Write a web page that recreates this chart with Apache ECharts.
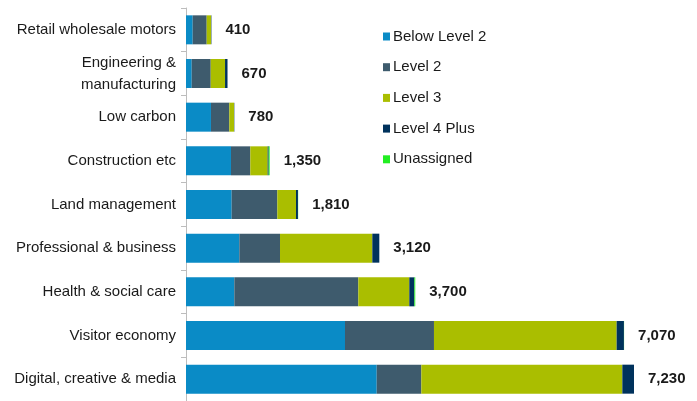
<!DOCTYPE html>
<html><head><meta charset="utf-8">
<script src="https://cdn.jsdelivr.net/npm/echarts@6/dist/echarts.min.js"></script>
<style>html,body{margin:0;padding:0;background:#fff}#c{width:697px;height:401px}</style>
</head><body><div id="c"></div>
<script>
const categories = ["Retail wholesale motors", "Engineering &\nmanufacturing", "Low carbon", "Construction etc", "Land management", "Professional & business", "Health & social care", "Visitor economy", "Digital, creative & media"];
const below2 = [108, 92, 403, 726, 737, 861, 780, 2566, 3078];
const level2 = [226, 307, 296, 312, 737, 656, 2001, 1436, 720];
const level3 = [70, 231, 76, 280, 301, 1490, 823, 2948, 3244];
const level4 = [6, 40, 5, 16, 32, 113, 81, 118, 188];
const unassigned = [0, 0, 0, 16, 3, 0, 15, 2, 0];
const totals = [410, 670, 780, 1350, 1810, 3120, 3700, 7070, 7230];
const seriesNames = ["Below Level 2", "Level 2", "Level 3", "Level 4 Plus", "Unassigned"];
const colors = ["#0a8bc6", "#3e5b6d", "#aabe00", "#00325c", "#22ee22"];

const chart = echarts.init(document.getElementById('c'));
const font = "Arial, 'Liberation Sans', sans-serif";
const dataSets = [below2, level2, level3, level4, unassigned];
const series = dataSets.map((d, i) => ({
  name: seriesNames[i], type: 'bar', stack: 'a', data: d, barWidth: 29,
  itemStyle: { color: colors[i] }, animation: false
}));
series.push({
  name: 'Total', type: 'bar', stack: 'a', data: totals.map(() => 0), barWidth: 29,
  itemStyle: { color: 'transparent' }, animation: false,
  label: { show: true, position: 'right', distance: 14, fontFamily: font, fontSize: 15, fontWeight: 'bold', color: '#1a1a1a',
    formatter: p => totals[p.dataIndex].toLocaleString('en-US') }
});
chart.setOption({
  animation: false,
  textStyle: { fontFamily: font },
  grid: { left: 186, right: 15.3, top: 8, height: 395.6, containLabel: false },
  legend: {
    data: seriesNames, orient: 'vertical', left: 378, top: 24, itemWidth: 7, itemHeight: 8, itemGap: 15.7,
    icon: 'rect', textStyle: { fontFamily: font, fontSize: 15, color: '#1a1a1a', padding: [0,0,0,-2] }
  },
  xAxis: { type: 'value', min: 0, max: 8000, show: false, splitLine: { show: false } },
  yAxis: {
    type: 'category', data: categories, inverse: true,
    axisLine: { show: true, lineStyle: { color: '#bdbdbd' } },
    axisTick: { show: true, length: 5, lineStyle: { color: '#bdbdbd' } },
    axisLabel: { fontFamily: font, fontSize: 15, color: '#1a1a1a', margin: 10, lineHeight: 22 }
  },
  series: series
});
</script></body></html>
